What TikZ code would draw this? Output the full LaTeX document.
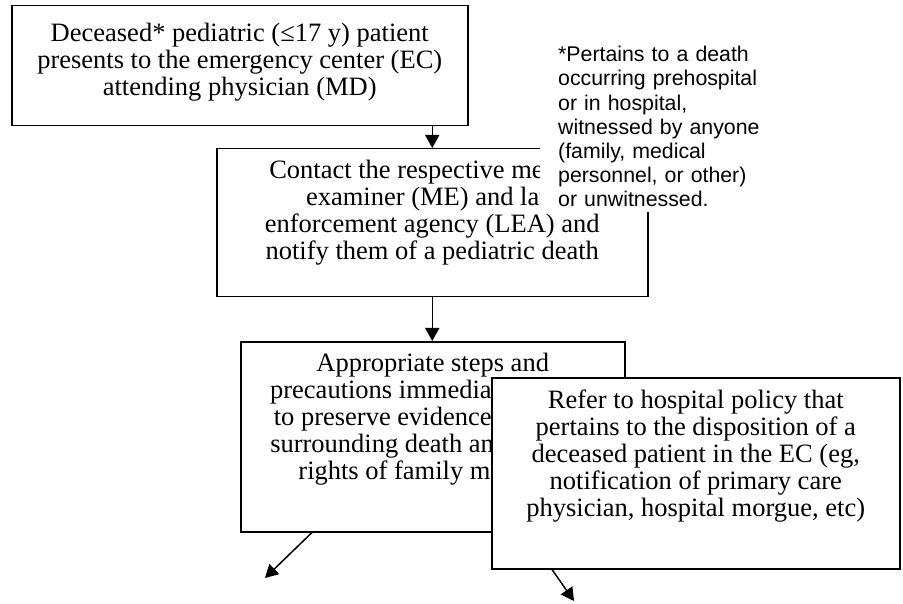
\documentclass[tikz,border=0pt]{standalone}
\usepackage{fontspec}
\setmainfont{Liberation Serif}
\newfontfamily\notefont{Liberation Sans}
\usetikzlibrary{positioning,arrows.meta}
\tikzset{
  box/.style={draw,line width=1.5pt,fill=white,anchor=north west,inner sep=0pt},
  txt/.style={align=center,inner sep=0pt,font=\fontsize{26.5}{27}\selectfont},
  arr/.style={line width=1.5pt,-{Triangle[width=14pt,length=13pt]}},
}
\begin{document}
\begin{tikzpicture}[x=1pt,y=-1pt]
\useasboundingbox (0,0) rectangle (903,604);
\node[box,minimum width=456pt,minimum height=120pt] (b1) at (11,5) {};
\node[txt,below=18pt of b1.north] (t1) {Deceased* pediatric (≤17 y) patient\\presents to the emergency center (EC)\\attending physician (MD)};
\node[box,minimum width=431pt,minimum height=148pt] (b2) at (216,148) {};
\node[txt,below=12pt of b2.north] (t2) {Contact the respective medical\\examiner (ME) and law\\enforcement agency (LEA) and\\notify them of a pediatric death};
\draw[arr] (b1.south -| b2.north) -- (b2.north);
\node[fill=white,anchor=north west,align=left,text width=205pt,inner xsep=18pt,inner ysep=5pt,
  font=\notefont\fontsize{21.3}{24.2}\selectfont] (note) at (540,41)
  {*Pertains to a death\\occurring prehospital\\or in hospital,\\witnessed by anyone\\(family, medical\\personnel, or other)\\or unwitnessed.};
\node[box,minimum width=384pt,minimum height=190pt] (b3) at (240,341) {};
\node[txt,below=12pt of b3.north] (t3) {Appropriate steps and\\precautions immediately taken\\to preserve evidence\rule{100pt}{0pt}\\surrounding death and\rule{88pt}{0pt}\\rights of family members};
\draw[arr] (b2.south) -- (b2.south |- b3.north);
\node[box,minimum width=408pt,minimum height=191pt] (b4) at (491,377) {};
\node[txt,below=13pt of b4.north] (t4) {Refer to hospital policy that\\pertains to the disposition of a\\deceased patient in the EC (eg,\\notification of primary care\\physician, hospital morgue, etc)};
\coordinate (e3) at (265,578);
\coordinate (e4) at (574,601);
\draw[arr] ([xshift=72pt]b3.south west) -- (e3);
\draw[arr] ([xshift=61pt]b4.south west) -- (e4);
\end{tikzpicture}
\end{document}
